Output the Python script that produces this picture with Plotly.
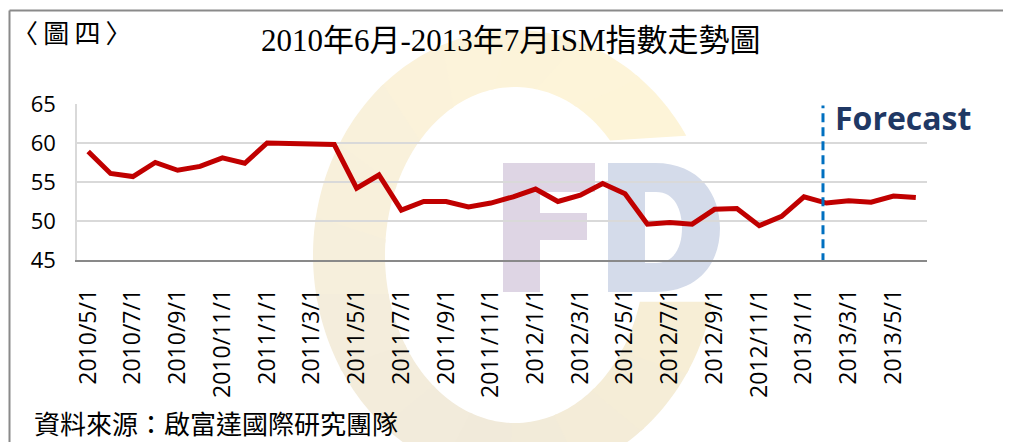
import math
import plotly.graph_objects as go

months = ["2010/5/1", "2010/6/1", "2010/7/1", "2010/8/1", "2010/9/1", "2010/10/1",
          "2010/11/1", "2010/12/1", "2011/1/1", "2011/2/1", "2011/3/1", "2011/4/1",
          "2011/5/1", "2011/6/1", "2011/7/1", "2011/8/1", "2011/9/1", "2011/10/1",
          "2011/11/1", "2011/12/1", "2012/1/1", "2012/2/1", "2012/3/1", "2012/4/1",
          "2012/5/1", "2012/6/1", "2012/7/1", "2012/8/1", "2012/9/1", "2012/10/1",
          "2012/11/1", "2012/12/1", "2013/1/1", "2013/2/1", "2013/3/1", "2013/4/1",
          "2013/5/1", "2013/6/1"]
ism = [58.9, 56.1, 55.7, 57.5, 56.5, 57.0, 58.1, 57.4, 60.0, 59.9, 59.8, 59.8,
       54.2, 55.9, 51.4, 52.5, 52.5, 51.8, 52.3, 53.1, 54.1, 52.5, 53.3, 54.8,
       53.5, 49.6, 49.8, 49.6, 51.5, 51.6, 49.4, 50.6, 53.1, 52.3, 52.6, 52.4,
       53.2, 53.0]
tick_labels = months[::2]
forecast_pos = 32.85  # category index where the forecast divider is drawn

# The page body adds an 8px margin, so the figure is sized to fit the window.
OFF = 8
W_FIG, H_FIG = 1011 - OFF, 442 - OFF
PLOT_LEFT, PLOT_RIGHT, PLOT_TOP, PLOT_BOTTOM = 77, 927, 104, 260  # page pixels
L = PLOT_LEFT - OFF
T = PLOT_TOP - OFF
R = W_FIG - (PLOT_RIGHT - OFF)
B = H_FIG - (PLOT_BOTTOM - OFF)
PW, PH = W_FIG - L - R, H_FIG - T - B


def px(x):
    return (x - OFF - L) / PW


def py(y):
    return 1 - (y - OFF - T) / PH


def P(x, y):
    return f"{px(x):.5f},{py(y):.5f}"


def path_from(points):
    return "M " + " L ".join(P(x, y) for x, y in points) + " Z"


def lerp_col(c1, c2, f):
    a = [int(c1[i:i + 2], 16) for i in (1, 3, 5)]
    b = [int(c2[i:i + 2], 16) for i in (1, 3, 5)]
    return "#" + "".join(f"{round(a[k] + (b[k] - a[k]) * f):02X}" for k in range(3))


# --- watermark "C" ring, drawn as angular slices to imitate its soft gradient ---
cx, cy = 515, 255
orx, ory = 202, 225
irx, iry = 130, 168
o_start, o_end = 32.0, 348.0
i_start, i_end = 43.0, 343.8
col_stops = [(0.0, "#FDF4D8"), (0.25, "#FCF3DA"), (0.5, "#F5EEDC"),
             (0.75, "#F1EADA"), (1.0, "#F8EFD6")]


def col_at(f):
    for (f1, c1), (f2, c2) in zip(col_stops[:-1], col_stops[1:]):
        if f1 <= f <= f2:
            return lerp_col(c1, c2, (f - f1) / (f2 - f1))
    return col_stops[-1][1]


c_shapes = []
N = 16
for s in range(N):
    fa, fb = s / N, min(1.0, (s + 1) / N + 0.004)
    pts = []
    for k in range(13):
        f = fa + (fb - fa) * k / 12
        t = math.radians(o_start + (o_end - o_start) * f)
        pts.append((cx + orx * math.cos(t), cy - ory * math.sin(t)))
    for k in range(13):
        f = fb - (fb - fa) * k / 12
        t = math.radians(i_start + (i_end - i_start) * f)
        pts.append((cx + irx * math.cos(t), cy - iry * math.sin(t)))
    c_shapes.append(dict(type="path", path=path_from(pts), xref="paper", yref="paper",
                         layer="below", fillcolor=col_at((fa + fb) / 2),
                         line=dict(width=0)))

f_pts = [(503, 163), (595, 163), (595, 192), (540, 192), (540, 213), (587, 213),
         (587, 240), (540, 240), (540, 292), (503, 292)]
f_path = path_from(f_pts)

d_path = (f"M {P(608,163)} L {P(655,163)} C {P(700,163)} {P(720,195)} {P(720,228)} "
          f"C {P(720,262)} {P(700,292)} {P(655,292)} L {P(608,292)} Z "
          f"M {P(645,192)} L {P(656,192)} C {P(675,192)} {P(682,210)} {P(682,228)} "
          f"C {P(682,246)} {P(675,263)} {P(656,263)} L {P(645,263)} Z")

fig = go.Figure()
fig.add_trace(go.Scatter(
    x=months, y=ism, mode="lines",
    line=dict(color="#C00000", width=5),
    hoverinfo="x+y", showlegend=False,
))

shapes = c_shapes + [
    dict(type="path", path=f_path, xref="paper", yref="paper", layer="below",
         fillcolor="#DED5E4", line=dict(width=0)),
    dict(type="path", path=d_path, xref="paper", yref="paper", layer="below",
         fillcolor="#D4DBEA", line=dict(width=0), fillrule="evenodd"),
    # forecast divider
    dict(type="line", xref="x", yref="y", x0=forecast_pos, x1=forecast_pos,
         y0=44.7, y1=64.8, line=dict(color="#0070C0", width=3, dash="9px,5px")),
    # outer frame lines
    dict(type="line", xref="paper", yref="paper", x0=px(9.5), x1=px(1011),
         y0=py(10.5), y1=py(10.5), line=dict(color="#8A8A8A", width=2)),
    dict(type="line", xref="paper", yref="paper", x0=px(9.5), x1=px(9.5),
         y0=py(10.5), y1=py(442), line=dict(color="#8A8A8A", width=2)),
]

thin = "\u2009"
annotations = [
    dict(text="〈" + thin + "圖" + thin + "四" + thin + "〉", x=px(10), y=py(32),
         xref="paper", yref="paper", xanchor="left", yanchor="middle", showarrow=False,
         font=dict(family="Noto Sans CJK TC", size=26, color="#000000")),
    dict(text="2010年6月-2013年7月ISM指數走勢圖", x=px(510), y=py(40),
         xref="paper", yref="paper", xanchor="center", yanchor="middle",
         showarrow=False,
         font=dict(family="Liberation Serif, Noto Sans CJK TC", size=31, color="#000000")),
    dict(text="<b>Forecast</b>", x=px(833), y=py(117), xref="paper", yref="paper",
         xanchor="left", yanchor="middle", showarrow=False,
         font=dict(family="Open Sans", size=32, color="#1F3864")),
    dict(text="資料來源：啟富達國際研究團隊", x=px(32), y=py(422), xref="paper",
         yref="paper", xanchor="left", yanchor="middle", showarrow=False,
         font=dict(family="Noto Sans CJK TC", size=26, color="#000000")),
]

fig.update_layout(
    width=W_FIG, height=H_FIG,
    margin=dict(l=L, r=R, t=T, b=B, pad=0),
    paper_bgcolor="#FFFFFF", plot_bgcolor="rgba(0,0,0,0)",
    shapes=shapes, annotations=annotations, showlegend=False,
    xaxis=dict(
        type="category", categoryorder="array", categoryarray=months,
        range=[-0.5, len(months) - 0.5],
        tickmode="array", tickvals=tick_labels, ticktext=tick_labels,
        tickangle=-90, ticks="", showgrid=False, zeroline=False,
        showline=True, linecolor="#898989", linewidth=1.5,
        tickfont=dict(family="Open Sans", size=23, color="#000000"),
        ticklabelstandoff=18,
    ),
    yaxis=dict(
        range=[45, 65], tickmode="linear", tick0=45, dtick=5,
        ticks="", showgrid=True, gridcolor="#D9D9D9", gridwidth=1.5,
        zeroline=False, showline=True, linecolor="#D9D9D9", linewidth=1.5,
        tickfont=dict(family="Open Sans", size=22, color="#000000"),
        ticklabelstandoff=15,
    ),
)

fig.write_html("out.html")
